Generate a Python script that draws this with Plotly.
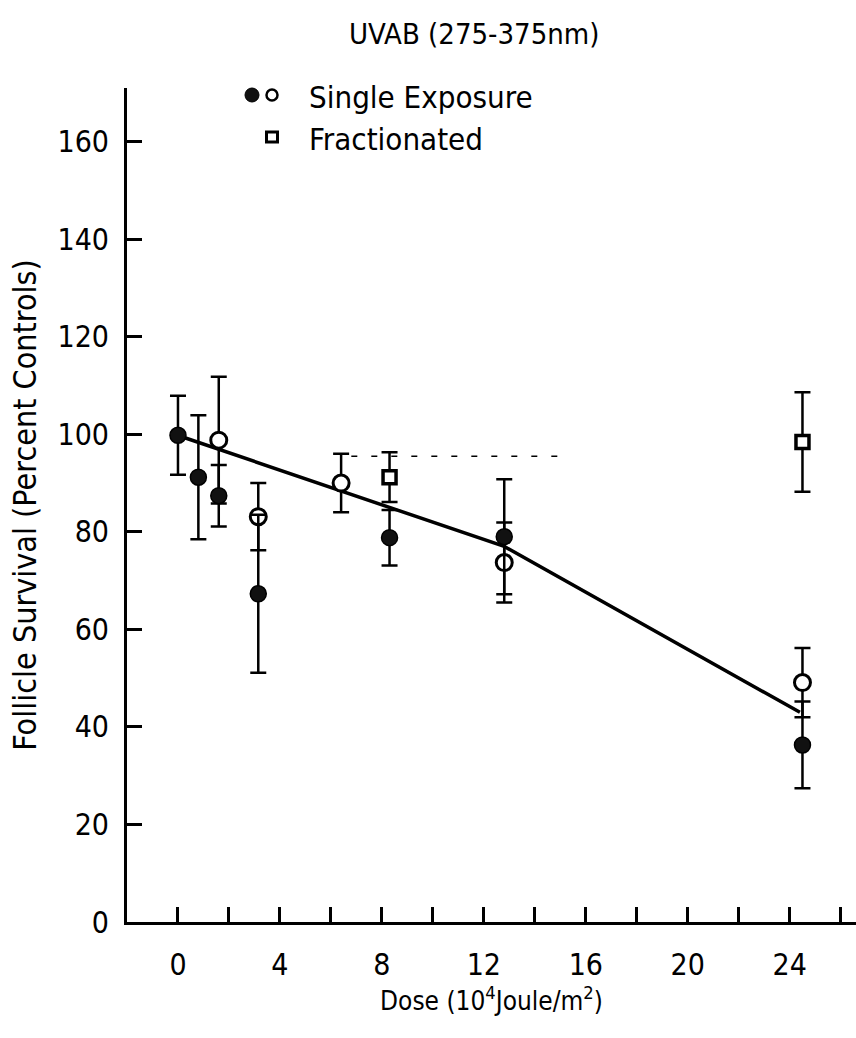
import plotly.graph_objects as go

# ---- data ----
single_filled_x = [0.0, 0.8, 1.6, 3.15, 8.3, 12.8, 24.5]
single_filled_y = [99.8, 91.2, 87.4, 67.3, 78.8, 79.0, 36.3]
single_filled_err = [8.1, 12.7, 6.3, 16.2, 5.7, 11.8, 8.9]

single_open_x = [1.6, 3.15, 6.4, 12.8, 24.5]
single_open_y = [98.8, 83.1, 90.0, 73.7, 49.1]
single_open_err = [13.0, 6.9, 6.0, 8.2, 7.1]

frac_x = [8.3, 24.5]
frac_y = [91.2, 98.4]
frac_err = [5.1, 10.2]

fit_x = [0.15, 12.8, 24.4]
fit_y = [99.5, 77.0, 43.0]

ref_x = [6.8, 15.4]
ref_y = [95.5, 95.5]

x_ticks = [0, 4, 8, 12, 16, 20, 24]
y_ticks = [0, 20, 40, 60, 80, 100, 120, 140, 160]

FONT = "Liberation Sans Narrow, DejaVu Sans Condensed, Liberation Sans, sans-serif"
W, H = 856, 1038
ML, MR, MT, MB = 127, 0, 88, 116

fig = go.Figure()

fig.add_trace(go.Scatter(x=ref_x, y=ref_y, mode="lines",
                         line=dict(color="black", width=1.5, dash="6px,14px"),
                         hoverinfo="skip", showlegend=False))

fig.add_trace(go.Scatter(x=fit_x, y=fit_y, mode="lines",
                         line=dict(color="black", width=3.5),
                         showlegend=False))

err_style = dict(type="data", color="black", thickness=2.5, width=8)

fig.add_trace(go.Scatter(x=frac_x, y=frac_y, mode="markers",
                         error_y=dict(array=frac_err, **err_style),
                         marker=dict(symbol="square", size=13, color="white",
                                     line=dict(color="black", width=3.5)),
                         showlegend=False))

fig.add_trace(go.Scatter(x=single_open_x, y=single_open_y, mode="markers",
                         error_y=dict(array=single_open_err, **err_style),
                         marker=dict(symbol="circle", size=16, color="white",
                                     line=dict(color="black", width=3)),
                         showlegend=False))

fig.add_trace(go.Scatter(x=single_filled_x, y=single_filled_y, mode="markers",
                         error_y=dict(array=single_filled_err, **err_style),
                         marker=dict(symbol="circle", size=16, color="#111",
                                     line=dict(color="black", width=1.5)),
                         showlegend=False))


def px_x(p):
    return (p - ML) / (W - ML - MR)


def px_y(p):
    return 1 - (p - MT) / (H - MT - MB)


shapes = []


def circle(cx, cy, d, fill, lw):
    return dict(type="circle", xref="paper", yref="paper", xsizemode="pixel", ysizemode="pixel",
                xanchor=px_x(cx), yanchor=px_y(cy), x0=-d / 2, x1=d / 2, y0=-d / 2, y1=d / 2,
                fillcolor=fill, line=dict(color="black", width=lw))


shapes.append(circle(252, 95, 14, "#111", 1))
shapes.append(circle(272, 95, 11, "white", 2.5))
shapes.append(dict(type="rect", xref="paper", yref="paper", xsizemode="pixel", ysizemode="pixel",
                   xanchor=px_x(272), yanchor=px_y(137), x0=-5.5, x1=5.5, y0=-5, y1=5,
                   fillcolor="white", line=dict(color="black", width=3)))

annotations = [
    dict(text="UVAB (275-375nm)", xref="paper", yref="paper", x=px_x(474), y=px_y(34),
         showarrow=False, font=dict(size=29, family=FONT, color="black"),
         xanchor="center", yanchor="middle"),
    dict(text="Single Exposure", xref="paper", yref="paper", x=px_x(307), y=px_y(97),
         showarrow=False, font=dict(size=31, family=FONT, color="black"),
         xanchor="left", yanchor="middle"),
    dict(text="Fractionated", xref="paper", yref="paper", x=px_x(307), y=px_y(139),
         showarrow=False, font=dict(size=31, family=FONT, color="black"),
         xanchor="left", yanchor="middle"),
]

fig.update_layout(
    width=W, height=H,
    margin=dict(l=ML, r=MR, t=MT, b=MB),
    paper_bgcolor="white", plot_bgcolor="white",
    font=dict(family=FONT, size=30, color="black"),
    shapes=shapes, annotations=annotations,
    showlegend=False,
)

fig.update_xaxes(
    range=[-2, 26.6], showgrid=False, zeroline=False,
    showline=True, linecolor="black", linewidth=3,
    tickmode="array", tickvals=x_ticks, ticktext=[str(v) for v in x_ticks],
    ticks="inside", ticklen=15, tickwidth=2.5, tickcolor="black",
    minor=dict(dtick=2, tick0=0, ticks="inside", ticklen=15, tickwidth=2.5, tickcolor="black"),
    tickfont=dict(size=30, family=FONT), ticklabelstandoff=14,
    title=dict(text="Dose (10<sup>4</sup>Joule/m<sup>2</sup>)", font=dict(size=26, family=FONT),
               standoff=4),
)
fig.update_yaxes(
    range=[0, 171], showgrid=False, zeroline=False,
    showline=True, linecolor="black", linewidth=3,
    tickmode="array", tickvals=y_ticks, ticktext=[str(v) for v in y_ticks],
    ticks="inside", ticklen=15, tickwidth=2.5, tickcolor="black",
    tickfont=dict(size=30, family=FONT), ticklabelstandoff=9,
    title=dict(text="Follicle Survival (Percent Controls)", font=dict(size=32, family=FONT),
               standoff=12),
)

fig.write_html("out.html")
